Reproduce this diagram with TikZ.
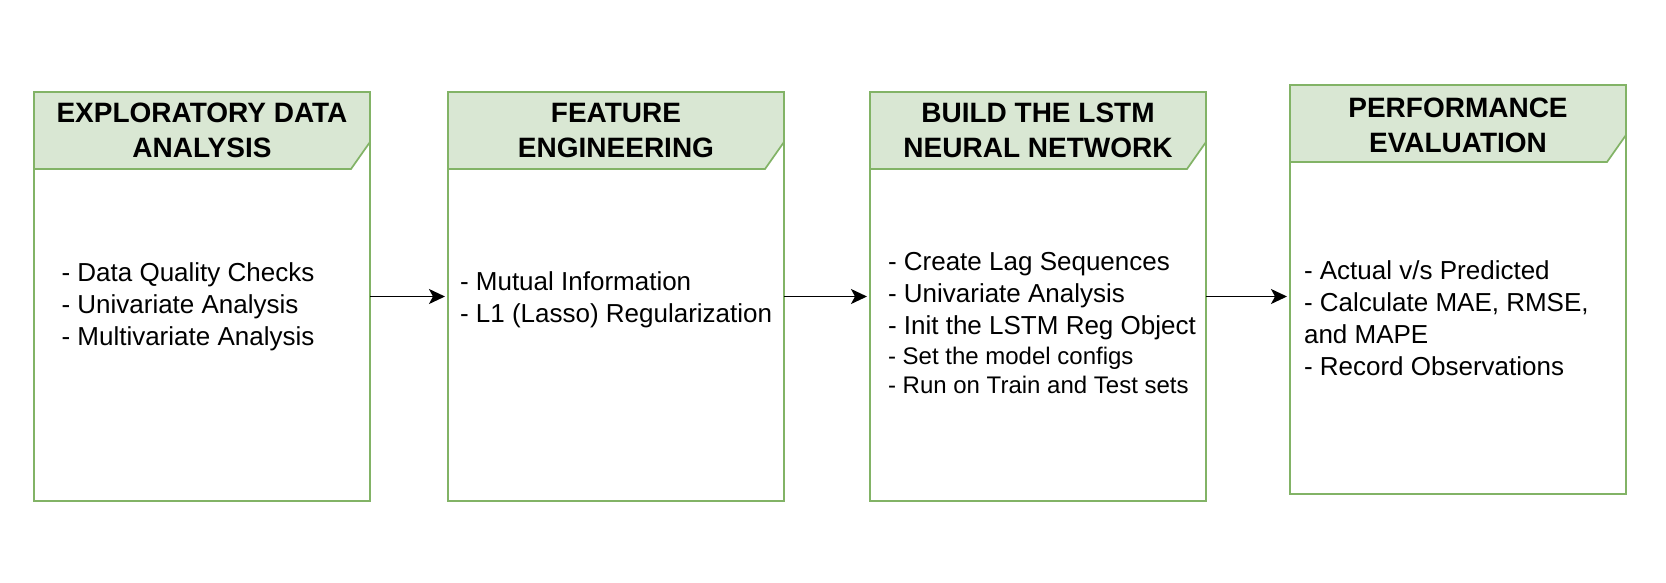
\documentclass[tikz,border=0pt]{standalone}
\usepackage{fontspec}
\setmainfont{Liberation Sans}
\usepackage{xcolor}
\usetikzlibrary{arrows.meta,positioning}

\definecolor{stagegreen}{HTML}{82B366}
\definecolor{stagefill}{HTML}{D9E7D3}

\begin{document}
\begin{tikzpicture}[
  stage/.style={draw=stagegreen, line width=1.7pt, fill=white, outer sep=0pt, minimum width=336pt, minimum height=409pt},
  head/.style={draw=stagegreen, line width=1.7pt, fill=stagefill, line join=miter},
  title/.style={font=\fontsize{28}{35}\selectfont\bfseries, align=center},
  items/.style={font=\fontsize{26}{32}\selectfont, align=left, anchor=west},
  flow/.style={-{Stealth[length=16pt,width=15pt,inset=4pt]}, line width=1.7pt, shorten >=3pt}
]
\useasboundingbox (0,0) rectangle (1666pt,-582pt);

\node[stage] (eda) at (202pt,-296.5pt) {};
\node[stage, right=78pt of eda] (feat) {};
\node[stage, right=86pt of feat] (lstm) {};
\node[stage, right=84pt of lstm, yshift=7pt] (perf) {};

% header tabs
\foreach \b in {eda,feat,lstm,perf}{
  \draw[head] (\b.north west) -- (\b.north east) -- ([yshift=-50pt]\b.north east)
    -- ([xshift=-19pt,yshift=-77pt]\b.north east) -- ([yshift=-77pt]\b.north west) -- cycle;
}

\node[title] (edaT) at ([yshift=-38.5pt]eda.north) {EXPLORATORY DATA\\ANALYSIS};
\node[title] (featT) at ([yshift=-38.5pt]feat.north) {FEATURE\\ENGINEERING};
\node[title] (lstmT) at ([yshift=-38.5pt]lstm.north) {BUILD THE LSTM\\NEURAL NETWORK};
\node[title] (perfT) at ([yshift=-40.5pt]perf.north) {PERFORMANCE\\EVALUATION};

\node[items] (edaL) at ([xshift=24pt,yshift=-10pt]eda.west) {- Data Quality Checks\\- Univariate Analysis\\- Multivariate Analysis};
\node[items] (featL) at ([xshift=8.5pt,yshift=-3pt]feat.west) {- Mutual Information\\- L1 (Lasso) Regularization};
\node[items] (lstmL) at ([xshift=14.5pt,yshift=-27pt]lstm.west) {- Create Lag Sequences\\- Univariate Analysis\\- Init the LSTM Reg Object\\[-2pt]
  \fontsize{24}{29}\selectfont - Set the model configs\\[-3pt]\fontsize{24}{29}\selectfont - Run on Train and Test sets};
\node[items] (perfL) at ([xshift=10.5pt,yshift=-29pt]perf.west) {- Actual v/s Predicted\\- Calculate MAE, RMSE,\\and MAPE\\- Record Observations};

\draw[flow] (eda) -- (feat);
\draw[flow] (feat) -- (lstm);
\draw[flow] (lstm.east) -- (lstm.east -| perf.west);
\end{tikzpicture}
\end{document}
